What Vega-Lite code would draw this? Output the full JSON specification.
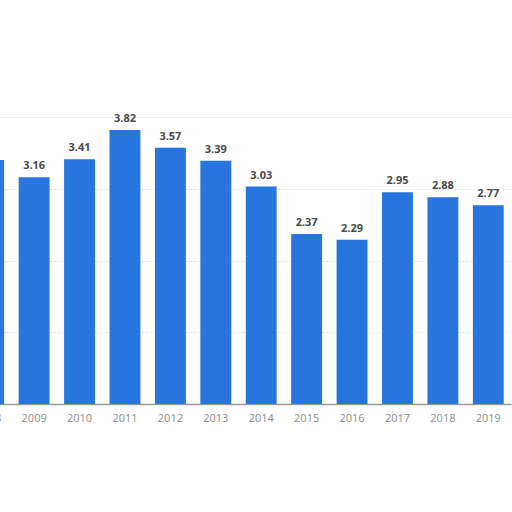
{
  "$schema": "https://vega.github.io/schema/vega-lite/v6.json",
  "autosize": "none",
  "width": 545,
  "height": 287,
  "padding": {"left": -34, "top": 117, "right": 1, "bottom": 108},
  "background": "#ffffff",
  "config": {
    "view": {"stroke": null},
    "font": "Open Sans"
  },
  "data": {
    "values": [
      {"year": "2008", "value": 3.40},
      {"year": "2009", "value": 3.16},
      {"year": "2010", "value": 3.41},
      {"year": "2011", "value": 3.82},
      {"year": "2012", "value": 3.57},
      {"year": "2013", "value": 3.39},
      {"year": "2014", "value": 3.03},
      {"year": "2015", "value": 2.37},
      {"year": "2016", "value": 2.29},
      {"year": "2017", "value": 2.95},
      {"year": "2018", "value": 2.88},
      {"year": "2019", "value": 2.77}
    ]
  },
  "encoding": {
    "x": {
      "field": "year",
      "type": "ordinal",
      "scale": {"paddingInner": 0.32, "paddingOuter": 0.16},
      "axis": {
        "title": null,
        "labelAngle": 0,
        "labelFontSize": 11,
        "labelColor": "#8c8c8c",
        "labelPadding": 8,
        "ticks": false,
        "domainColor": "#9a9a9a",
        "domainWidth": 1.5
      }
    },
    "y": {
      "field": "value",
      "type": "quantitative",
      "scale": {"domain": [0, 4], "nice": false},
      "axis": {
        "title": null,
        "labels": false,
        "ticks": false,
        "domain": false,
        "tickCount": 4,
        "gridColor": "#dcdcdc",
        "gridDash": [2, 2]
      }
    }
  },
  "layer": [
    {
      "mark": {"type": "bar", "color": "#2876dd"}
    },
    {
      "mark": {
        "type": "text",
        "baseline": "bottom",
        "dy": -6,
        "fontSize": 11,
        "fontWeight": "bold",
        "color": "#4a4a4a"
      },
      "encoding": {
        "text": {"field": "value", "type": "quantitative", "format": ".2f"}
      }
    }
  ]
}
